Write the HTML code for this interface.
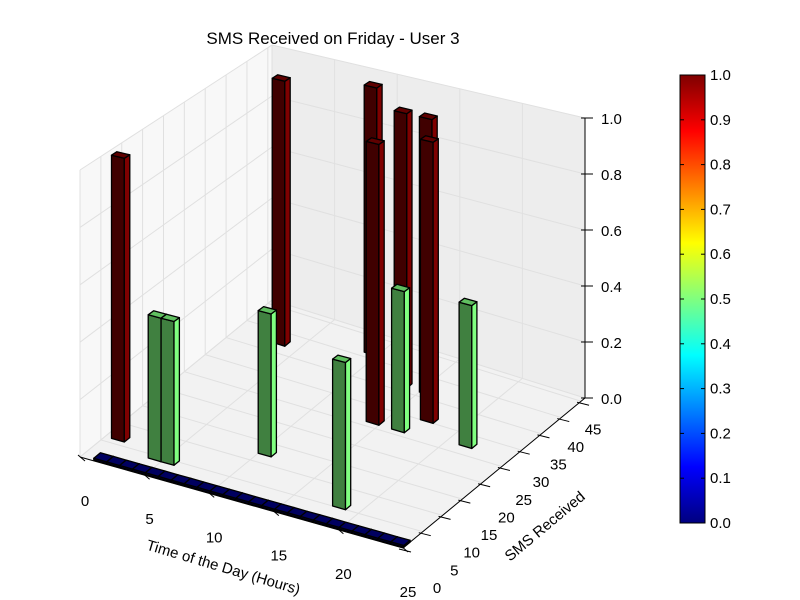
<!DOCTYPE html>
<html><head><meta charset="utf-8"><style>
body{margin:0;background:#fff}
svg{display:block;font-family:"Liberation Sans","DejaVu Sans",sans-serif}
</style></head><body>
<svg id="c" width="800" height="600" viewBox="0 0 800 600">
<defs>
<linearGradient id="jet" x1="0" y1="1" x2="0" y2="0">
<stop offset="0" stop-color="#00007f"/><stop offset="0.125" stop-color="#0000ff"/>
<stop offset="0.375" stop-color="#00ffff"/><stop offset="0.625" stop-color="#ffff00"/>
<stop offset="0.875" stop-color="#ff0000"/><stop offset="1" stop-color="#7f0000"/>
</linearGradient>
</defs>
<text x="333" y="44" text-anchor="middle" font-size="17">SMS Received on Friday - User 3</text>
<g id="panes"></g><g id="grid"></g><g id="axes"></g><g id="bars"></g>
<text transform="translate(222,572) rotate(16.5)" text-anchor="middle" font-size="15">Time of the Day (Hours)</text>
<text transform="translate(548,530) rotate(-40)" text-anchor="middle" font-size="15">SMS Received</text>
<g>
<rect x="680" y="75" width="25" height="448" fill="url(#jet)" stroke="#000" stroke-width="1"/>
<g id="cbticks"></g>
</g>
</svg>
<script>
const xTicks=[0,5,10,15,20,25];
const yTicks=[0,5,10,15,20,25,30,35,40,45];
const zTicks=[0,0.2,0.4,0.6,0.8,1.0];
const zTickLabels=["0.0","0.2","0.4","0.6","0.8","1.0"];
const cbTicks=[0,0.1,0.2,0.3,0.4,0.5,0.6,0.7,0.8,0.9,1.0];
// bars: hour (x), sms count (y), value (height / colour)
const barHours=[0.5,4,5,10,18,3,9,14,13,15,17,16,21];
const barCounts=[6,4,4,12,5,37,41,26,36,36,30,26,27];
const barValues=[1,0.5,0.5,0.5,0.5,1,1,1,1,1,1,0.5,0.5];
const zeroHours=[1,2,3,4,5,6,7,8,9,10,11,12,13,14,15,16,17,18,19,20,21,22,23,24];

const NS='http://www.w3.org/2000/svg';
const XM=25,YM=46;
const FL=[80,457],FR=[403,548],BR=[585,398],BL=[272,300];
const HFL=287,HFR=300,HBR=280,HBL=255;
function P(x,y,z){
  const u=x/XM,v=y/YM;
  const fx=(1-u)*(1-v)*FL[0]+u*(1-v)*FR[0]+u*v*BR[0]+(1-u)*v*BL[0];
  const fy=(1-u)*(1-v)*FL[1]+u*(1-v)*FR[1]+u*v*BR[1]+(1-u)*v*BL[1];
  const h=(1-u)*(1-v)*HFL+u*(1-v)*HFR+u*v*HBR+(1-u)*v*HBL;
  return [fx,fy-z*h];
}
function mk(tag,attrs,parent){const e=document.createElementNS(NS,tag);for(const k in attrs)e.setAttribute(k,attrs[k]);parent.appendChild(e);return e;}
function poly(pts){return pts.map(p=>p[0].toFixed(1)+','+p[1].toFixed(1)).join(' ');}
function jet(v){
  const st=[[0,[0,0,127]],[0.125,[0,0,255]],[0.375,[0,255,255]],[0.625,[255,255,0]],[0.875,[255,0,0]],[1,[127,0,0]]];
  for(let i=1;i<st.length;i++){if(v<=st[i][0]){const a=st[i-1],b=st[i];const t=(v-a[0])/(b[0]-a[0]);return a[1].map((c,j)=>c+(b[1][j]-c)*t);}}
  return st[st.length-1][1];
}
function shade(c,f){return 'rgb('+c.map(x=>Math.round(Math.min(255,x*f))).join(',')+')';}
const panes=document.getElementById('panes'),grid=document.getElementById('grid'),axes=document.getElementById('axes'),bars=document.getElementById('bars');
let e;
e=mk('polygon',{points:poly([P(0,0,0),P(XM,0,0),P(XM,YM,0),P(0,YM,0)]),fill:'#f2f2f2'},panes);

e=mk('polygon',{points:poly([P(0,0,0),P(0,YM,0),P(0,YM,1),P(0,0,1)]),fill:'#f8f8f8'},panes);

e=mk('polygon',{points:poly([P(0,YM,0),P(XM,YM,0),P(XM,YM,1),P(0,YM,1)]),fill:'#ededed'},panes);

function gl(a,b,name){const l=mk('line',{x1:a[0],y1:a[1],x2:b[0],y2:b[1],stroke:'#e0e0e0','stroke-width':1},grid);}
xTicks.forEach(x=>{gl(P(x,0,0),P(x,YM,0),'x-grid-floor');gl(P(x,YM,0),P(x,YM,1),'x-grid-wall');});
yTicks.forEach(y=>{gl(P(0,y,0),P(XM,y,0),'y-grid-floor');gl(P(0,y,0),P(0,y,1),'y-grid-wall');});
zTicks.forEach(z=>{gl(P(0,0,z),P(0,YM,z),'z-grid-left');gl(P(0,YM,z),P(XM,YM,z),'z-grid-back');});
function al(a,b,name){const l=mk('line',{x1:a[0],y1:a[1],x2:b[0],y2:b[1],stroke:'#000','stroke-width':1},axes);}
al(P(0,0,0),P(XM,0,0),'x-axis-line');al(P(XM,0,0),P(XM,YM,0),'y-axis-line');al(P(XM,YM,0),P(XM,YM,1),'z-axis-line');
function tx(x,y,s,name,anchor){const t=mk('text',{x:x,y:y,'font-size':15,'text-anchor':anchor||'middle'},axes);t.textContent=s;}
xTicks.forEach(x=>{const a=P(x,0,0);al([a[0]-2,a[1]-2],[a[0]+5,a[1]+4],'x-tick');tx(a[0]+5,a[1]+49,String(x),'x-tick-label');});
yTicks.forEach(y=>{const a=P(XM,y,0);al([a[0]-4,a[1]+1],[a[0]+8,a[1]+4],'y-tick');const f=y/45;tx(a[0]+34-22*f,a[1]+45-12*f,String(y),'y-tick-label');});
zTicks.forEach((z,i)=>{const a=P(XM,YM,z);al([a[0]-4,a[1]],[a[0]+8,a[1]],'z-tick');tx(a[0]+16,a[1]+6,zTickLabels[i],'z-tick-label','start');});
const cbg=document.getElementById('cbticks');
cbTicks.forEach(v=>{const y=523-v*448;
 let l=mk('line',{x1:680,y1:y,x2:684,y2:y,stroke:'#000'},cbg);
 l=mk('line',{x1:701,y1:y,x2:705,y2:y,stroke:'#000'},cbg);
 const t=mk('text',{x:710,y:y+5,'font-size':15},cbg);t.textContent=v.toFixed(1);});
function bar(x,y,z,v,dx,dy,name){
  const g=mk('g',{},bars);
  const c=jet(v);
  const front=[P(x,y,0),P(x+dx,y,0),P(x+dx,y,z),P(x,y,z)];
  const side=[P(x+dx,y,0),P(x+dx,y+dy,0),P(x+dx,y+dy,z),P(x+dx,y,z)];
  const top=[P(x,y,z),P(x+dx,y,z),P(x+dx,y+dy,z),P(x,y+dy,z)];
  mk('polygon',{points:poly(front),fill:shade(c,0.5),stroke:'#000','stroke-width':1.3,'stroke-linejoin':'round'},g);
  mk('polygon',{points:poly(side),fill:shade(c,1),stroke:'#000','stroke-width':1.3,'stroke-linejoin':'round'},g);
  mk('polygon',{points:poly(top),fill:shade(c,0.75),stroke:'#000','stroke-width':1.3,'stroke-linejoin':'round'},g);
}
zeroHours.forEach(h=>bar(h,0.2,0.006,0,1,1.6,'zero-bar'));
const order=barHours.map((h,i)=>i).sort((a,b)=>barCounts[b]-barCounts[a]||barHours[a]-barHours[b]);
order.forEach(i=>bar(barHours[i],barCounts[i],barValues[i],barValues[i],1,1.3,'bar-hour-'+barHours[i]));
</script>
</body></html>
